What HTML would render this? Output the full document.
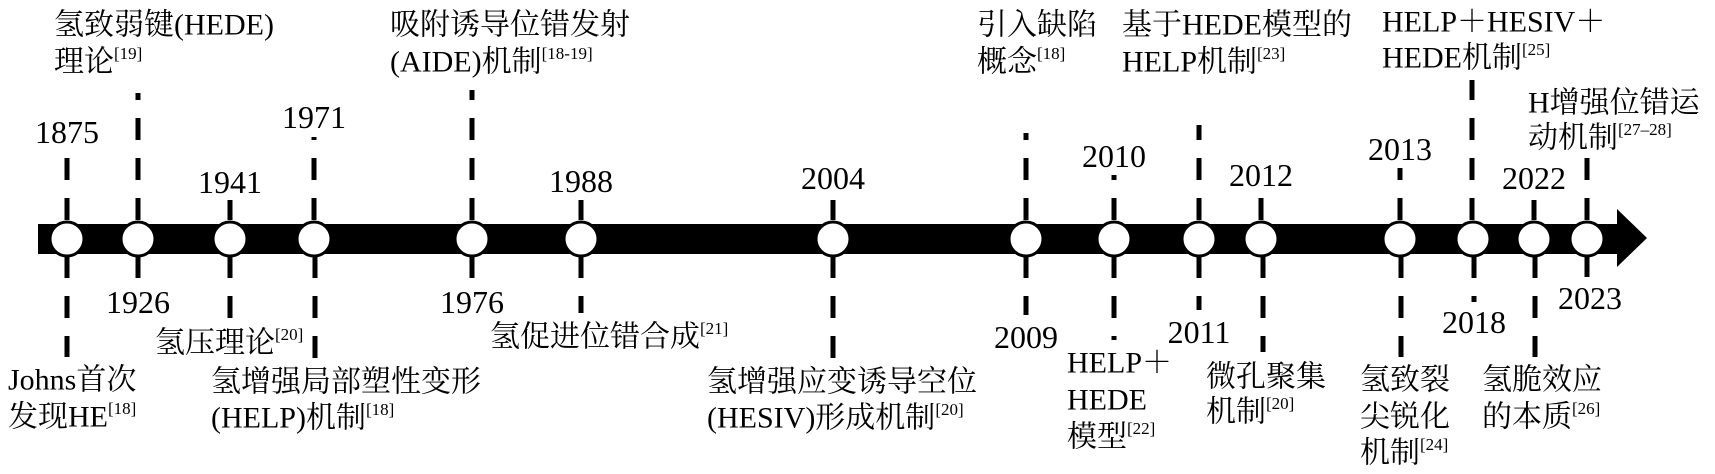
<!DOCTYPE html>
<html><head><meta charset="utf-8"><style>
html,body{margin:0;padding:0;background:#fff;}
svg{display:block}
text{font-family:"Liberation Serif","Noto Serif CJK SC","Noto Sans CJK SC",serif;font-size:30px;fill:#000;dominant-baseline:central}
.y text{font-size:32px}
.s{font-size:17px}
line{stroke:#000;stroke-width:5;stroke-dasharray:22 18}
</style></head><body>
<svg width="1715" height="474" viewBox="0 0 1715 474" xmlns="http://www.w3.org/2000/svg">
<g>
<line x1="67" y1="220" x2="67" y2="150"/>
<line x1="138" y1="220" x2="138" y2="93"/>
<line x1="230" y1="220" x2="230" y2="200"/>
<line x1="314" y1="220" x2="314" y2="137"/>
<line x1="472" y1="220" x2="472" y2="90"/>
<line x1="581" y1="220" x2="581" y2="200"/>
<line x1="833" y1="220" x2="833" y2="200"/>
<line x1="1026" y1="220" x2="1026" y2="133"/>
<line x1="1114" y1="220" x2="1114" y2="175"/>
<line x1="1199" y1="220" x2="1199" y2="125"/>
<line x1="1261" y1="220" x2="1261" y2="193"/>
<line x1="1400" y1="220" x2="1400" y2="168"/>
<line x1="1472" y1="220" x2="1472" y2="80"/>
<line x1="1534" y1="220" x2="1534" y2="200"/>
<line x1="1587" y1="220" x2="1587" y2="157"/>
</g>
<g>
<line x1="67" y1="256" x2="67" y2="357"/>
<line x1="138" y1="256" x2="138" y2="282"/>
<line x1="230" y1="256" x2="230" y2="320"/>
<line x1="315" y1="256" x2="315" y2="358"/>
<line x1="472" y1="256" x2="472" y2="280"/>
<line x1="581" y1="256" x2="581" y2="313"/>
<line x1="833" y1="256" x2="833" y2="360"/>
<line x1="1026" y1="256" x2="1026" y2="315"/>
<line x1="1114" y1="256" x2="1114" y2="340"/>
<line x1="1199" y1="256" x2="1199" y2="310"/>
<line x1="1263" y1="256" x2="1263" y2="352"/>
<line x1="1401" y1="256" x2="1401" y2="357"/>
<line x1="1474" y1="256" x2="1474" y2="302"/>
<line x1="1535" y1="256" x2="1535" y2="357"/>
<line x1="1587" y1="256" x2="1587" y2="277"/>
</g>
<rect x="38" y="224" width="1582" height="30" fill="#000"/>
<polygon points="1617,209 1647,238 1617,267" fill="#000"/>
<g fill="#fff" stroke="#000" stroke-width="3">
<circle cx="67" cy="239" r="17"/>
<circle cx="138" cy="239" r="17"/>
<circle cx="230" cy="239" r="17"/>
<circle cx="314" cy="239" r="17"/>
<circle cx="472" cy="239" r="17"/>
<circle cx="581" cy="239" r="17"/>
<circle cx="833" cy="239" r="17"/>
<circle cx="1026" cy="239" r="17"/>
<circle cx="1114" cy="239" r="17"/>
<circle cx="1199" cy="239" r="17"/>
<circle cx="1261" cy="239" r="17"/>
<circle cx="1400" cy="239" r="17"/>
<circle cx="1473" cy="239" r="17"/>
<circle cx="1534" cy="239" r="17"/>
<circle cx="1587" cy="239" r="17"/>
</g>
<g text-anchor="middle" class="y">
<text x="67" y="132">1875</text>
<text x="138" y="302">1926</text>
<text x="230" y="182">1941</text>
<text x="314" y="117">1971</text>
<text x="472" y="302">1976</text>
<text x="581" y="181">1988</text>
<text x="833" y="178">2004</text>
<text x="1026" y="337">2009</text>
<text x="1114" y="156">2010</text>
<text x="1199" y="332">2011</text>
<text x="1261" y="175">2012</text>
<text x="1400" y="149">2013</text>
<text x="1474" y="322">2018</text>
<text x="1534" y="178">2022</text>
<text x="1590" y="298">2023</text>
</g>
<text x="8" y="380">Johns首次</text>
<text x="8" y="417">发现HE<tspan class="s" dy="-9">[18]</tspan></text>
<text x="54" y="25">氢致弱键(HEDE)</text>
<text x="54" y="62">理论<tspan class="s" dy="-9">[19]</tspan></text>
<text x="155" y="343">氢压理论<tspan class="s" dy="-9">[20]</tspan></text>
<text x="211" y="382">氢增强局部塑性变形</text>
<text x="211" y="418">(HELP)机制<tspan class="s" dy="-9">[18]</tspan></text>
<text x="390" y="25">吸附诱导位错发射</text>
<text x="390" y="62">(AIDE)机制<tspan class="s" dy="-9">[18-19]</tspan></text>
<text x="490" y="337">氢促进位错合成<tspan class="s" dy="-9">[21]</tspan></text>
<text x="707" y="382">氢增强应变诱导空位</text>
<text x="707" y="418">(HESIV)形成机制<tspan class="s" dy="-9">[20]</tspan></text>
<text x="977" y="25">引入缺陷</text>
<text x="977" y="62">概念<tspan class="s" dy="-9">[18]</tspan></text>
<text x="1067" y="363">HELP＋</text>
<text x="1067" y="400">HEDE</text>
<text x="1067" y="437">模型<tspan class="s" dy="-9">[22]</tspan></text>
<text x="1122" y="25">基于HEDE模型的</text>
<text x="1122" y="62">HELP机制<tspan class="s" dy="-9">[23]</tspan></text>
<text x="1206" y="377">微孔聚集</text>
<text x="1206" y="412">机制<tspan class="s" dy="-9">[20]</tspan></text>
<text x="1360" y="380">氢致裂</text>
<text x="1360" y="417">尖锐化</text>
<text x="1360" y="453">机制<tspan class="s" dy="-9">[24]</tspan></text>
<text x="1382" y="22">HELP＋HESIV＋</text>
<text x="1382" y="58">HEDE机制<tspan class="s" dy="-9">[25]</tspan></text>
<text x="1482" y="380">氢脆效应</text>
<text x="1482" y="417">的本质<tspan class="s" dy="-9">[26]</tspan></text>
<text x="1528" y="103">H增强位错运</text>
<text x="1528" y="138">动机制<tspan class="s" dy="-9">[27–28]</tspan></text>
</svg>
</body></html>
